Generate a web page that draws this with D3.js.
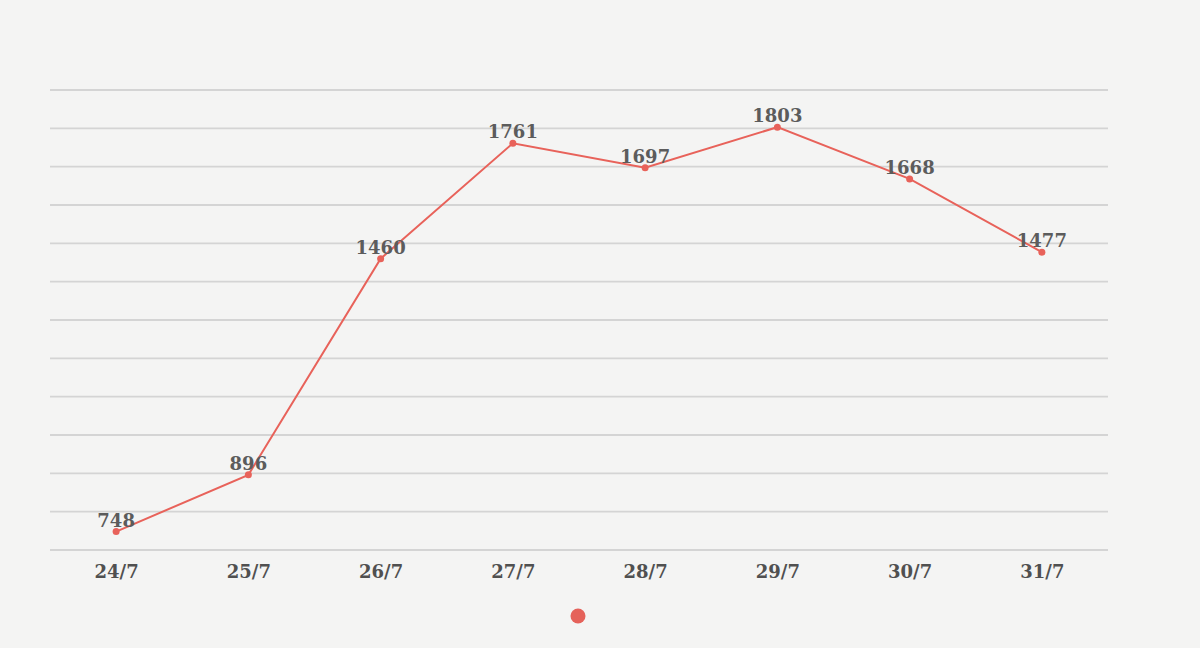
<!DOCTYPE html>
<html><head><meta charset="utf-8">
<script src="https://cdn.jsdelivr.net/npm/d3@7"></script>
<style>
html,body{margin:0;padding:0;background:#f4f4f3;}
svg{display:block;}
</style></head>
<body>
<svg id="c" width="1200" height="648"></svg>
<script>
const categories = ["24/7","25/7","26/7","27/7","28/7","29/7","30/7","31/7"];
const values = [748, 896, 1460, 1761, 1697, 1803, 1668, 1477];
const yTicks = [700,800,900,1000,1100,1200,1300,1400,1500,1600,1700,1800,1900];

(function(){
const svg = d3.select("#c");
const W = 1200, H = 648;
const mLeft = 50, mRight = 1108, mTop = 90, mBottom = 550;

svg.append("rect").attr("width",W).attr("height",H).attr("fill","#f4f4f3");

const x = d3.scalePoint().domain(categories).range([mLeft, mRight]).padding(0.5);
const y = d3.scaleLinear().domain([700,1900]).range([mBottom, mTop]);

const grid = svg.append("g");
grid.selectAll("line").data(yTicks).join("line")
  .attr("x1", mLeft).attr("x2", mRight)
  .attr("y1", d=>y(d)).attr("y2", d=>y(d))
  .attr("stroke","#d4d4d4").attr("stroke-width",1.8);

const xAxis = svg.append("g").attr("transform",`translate(0,${mBottom})`)
  .call(d3.axisBottom(x).tickSize(0).tickPadding(15));
xAxis.select(".domain").remove();
xAxis.selectAll("text")
  .attr("font-family","'DejaVu Serif', 'Liberation Serif', serif")
  .attr("font-weight","bold").attr("font-size",18)
  .attr("fill","#505050");

const color = "#e8625a";
const line = d3.line().x((d,i)=>x(categories[i])).y(d=>y(d));
svg.append("path").datum(values).attr("d",line)
  .attr("fill","none").attr("stroke",color).attr("stroke-width",2);

svg.append("g").selectAll("circle").data(values).join("circle")
  .attr("cx",(d,i)=>x(categories[i])).attr("cy",d=>y(d)).attr("r",3.5)
  .attr("fill",color);

svg.append("g").selectAll("text").data(values).join("text")
  .attr("x",(d,i)=>x(categories[i])).attr("y",d=>y(d)-5)
  .attr("text-anchor","middle")
  .attr("font-family","'DejaVu Serif', 'Liberation Serif', serif")
  .attr("font-weight","bold").attr("font-size",18)
  .attr("fill","#5c5c5c")
  .text(d=>d);

svg.append("circle").attr("cx",578).attr("cy",616).attr("r",7.5).attr("fill","#e5625a");
})();
</script>
</body></html>
